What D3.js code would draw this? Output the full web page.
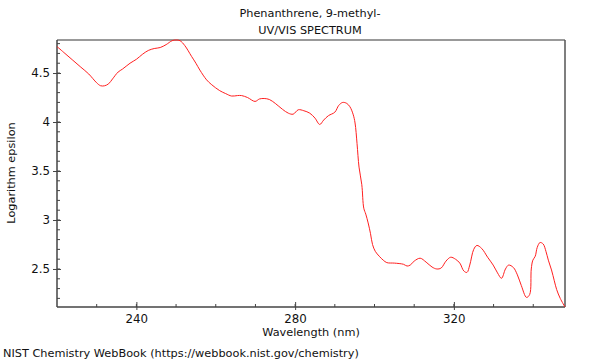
<!DOCTYPE html>
<html><head><meta charset="utf-8">
<script src="https://cdn.jsdelivr.net/npm/d3@7"></script>
<style>body{margin:0;background:#fff}svg{display:block;font-family:"DejaVu Sans",sans-serif}</style>
</head><body>
<svg id="c" width="600" height="360"></svg>
<script>
const wavelength = [220,222,224,226,228,230,231,232,233,234,235.4,236.5,238.4,240,241.5,243,244.5,246,247.5,249,250,251,252.2,253.9,255,256,257.7,259,261,262.5,264,265.5,266.5,268,269.9,271,272.2,273.5,275,276.8,278.3,279.5,280.8,282.2,283.7,285,286.2,287.2,288.4,290,291,292,293,293.8,294.6,295.1,295.6,296.1,296.8,297.3,297.8,298.4,299.0,299.5,300.2,301.2,302.2,303.1,305,307.3,308.2,309,310,311.5,313,314.5,315.7,316.8,318,319.2,320.4,321.5,322.5,323.3,324,325,325.8,327,328.5,329.9,331,332,333,333.8,335,336,337,338.3,339.1,339.5,339.9,340.5,341,341.7,342.5,343.2,343.8,344.6,345.3,345.9,346.8,348];
const logEpsilon = [4.77,4.70,4.63,4.56,4.49,4.40,4.37,4.37,4.39,4.44,4.51,4.54,4.60,4.64,4.69,4.73,4.75,4.76,4.79,4.83,4.837,4.83,4.78,4.67,4.60,4.53,4.43,4.38,4.32,4.29,4.265,4.27,4.27,4.25,4.21,4.235,4.24,4.23,4.19,4.13,4.09,4.08,4.125,4.115,4.09,4.04,3.975,4.02,4.065,4.10,4.17,4.20,4.19,4.156,4.08,3.99,3.78,3.54,3.36,3.12,3.06,2.97,2.86,2.75,2.68,2.63,2.59,2.565,2.56,2.548,2.53,2.54,2.58,2.61,2.57,2.52,2.50,2.51,2.58,2.62,2.60,2.56,2.48,2.465,2.54,2.70,2.74,2.71,2.62,2.54,2.46,2.405,2.50,2.54,2.515,2.44,2.33,2.21,2.24,2.50,2.59,2.63,2.72,2.77,2.755,2.68,2.59,2.49,2.38,2.29,2.20,2.112];
const xMajorTicks = [240,280,320];
const xMinorTicks = [230,240,250,260,270,280,290,300,310,320,330,340];
const yMajorTicks = [2.5,3,3.5,4,4.5];
const yMinorTicks = [2.2,2.3,2.4,2.5,2.6,2.7,2.8,2.9,3.0,3.1,3.2,3.3,3.4,3.5,3.6,3.7,3.8,3.9,4.0,4.1,4.2,4.3,4.4,4.5,4.6,4.7,4.8];
const titleLines = ["Phenanthrene, 9-methyl-","UV/VIS SPECTRUM"];
const xLabel = "Wavelength (nm)", yLabel = "Logarithm epsilon";
const footer = "NIST Chemistry WebBook (https://webbook.nist.gov/chemistry)";

const L=57,R=565,T=40,B=307,FS=11.3;
const svg=d3.select("#c");
const x=d3.scaleLinear().domain([220,348]).range([L,R]);
const y=d3.scaleLinear().domain([2.112,4.837]).range([B,T]);
const axisCol="#444";

// frame top/right
svg.append("line").attr("x1",L).attr("x2",R).attr("y1",T).attr("y2",T).attr("stroke","#999").attr("stroke-width",2);
svg.append("line").attr("x1",R).attr("x2",R).attr("y1",T).attr("y2",B).attr("stroke","#555").attr("stroke-width",1.5);

// bottom axis
const gx=svg.append("g").attr("transform",`translate(0,${B})`);
gx.append("line").attr("x1",L).attr("x2",R).attr("stroke",axisCol).attr("stroke-width",1.5);
gx.selectAll(".mn").data(xMinorTicks).join("line").attr("x1",d=>x(d)).attr("x2",d=>x(d)).attr("y1",0).attr("y2",-3).attr("stroke",axisCol);
const xa=d3.axisBottom(x).tickValues(xMajorTicks).tickSize(3).tickPadding(5).tickFormat(d3.format("d"));
const gxa=svg.append("g").attr("transform",`translate(0,${B})`).call(xa);
gxa.select(".domain").remove();
gxa.selectAll(".tick line").attr("y1",-5).attr("stroke",axisCol);
gxa.selectAll("text").attr("font-size",FS+0.5).attr("fill","#111").attr("font-family","DejaVu Sans");

// left axis
const gy=svg.append("g").attr("transform",`translate(${L},0)`);
gy.append("line").attr("y1",T).attr("y2",B).attr("stroke",axisCol).attr("stroke-width",1.5);
gy.selectAll(".mn").data(yMinorTicks).join("line").attr("y1",d=>y(d)).attr("y2",d=>y(d)).attr("x1",0).attr("x2",3).attr("stroke",axisCol);
const ya=d3.axisLeft(y).tickValues(yMajorTicks).tickSize(4).tickPadding(3).tickFormat(d=>String(d));
const gya=svg.append("g").attr("transform",`translate(${L},0)`).call(ya);
gya.select(".domain").remove();
gya.selectAll(".tick line").attr("x2",4).attr("x1",-4).attr("stroke",axisCol);
gya.selectAll("text").attr("font-size",FS+0.5).attr("fill","#111").attr("font-family","DejaVu Sans");

// line
const line=d3.line().x((d,i)=>x(wavelength[i])).y(d=>y(d)).curve(d3.curveCatmullRom.alpha(0.5));
svg.append("path").datum(logEpsilon).attr("d",line).attr("fill","none").attr("stroke","#ff2020").attr("stroke-width",1);

// texts
svg.selectAll(".tt").data(titleLines).join("text").attr("x",310).attr("y",(d,i)=>17+i*17).attr("text-anchor","middle").attr("font-size",FS).attr("fill","#111").text(d=>d);
svg.append("text").attr("x",311).attr("y",336).attr("text-anchor","middle").attr("font-size",FS).attr("fill","#111").text(xLabel);
svg.append("text").attr("transform","translate(15,173) rotate(-90)").attr("text-anchor","middle").attr("font-size",FS).attr("fill","#111").text(yLabel);
svg.append("text").attr("x",3).attr("y",357).attr("font-size",FS).attr("fill","#111").text(footer);
</script>
</body></html>
